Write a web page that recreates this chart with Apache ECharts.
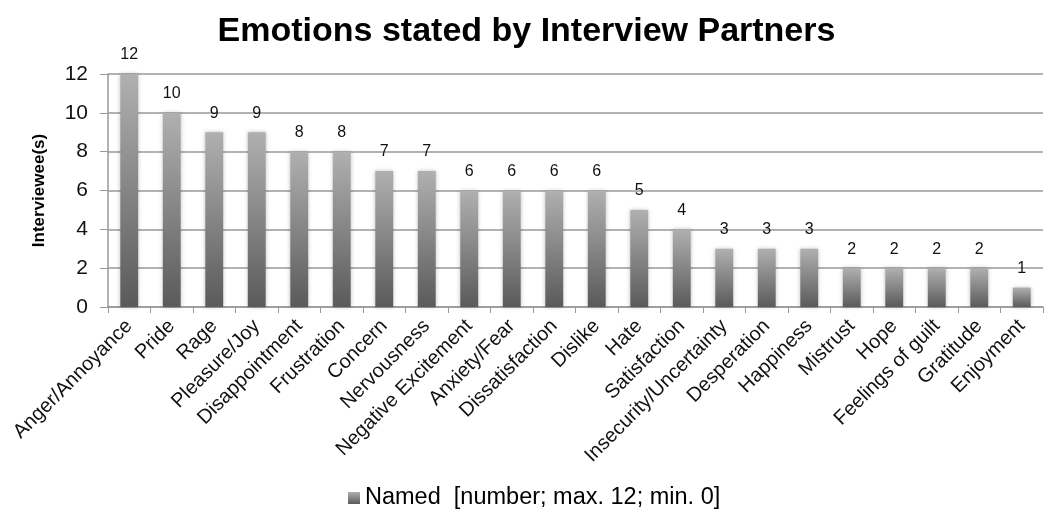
<!DOCTYPE html>
<html><head><meta charset="utf-8">
<script src="https://cdn.jsdelivr.net/npm/echarts@6/dist/echarts.min.js"></script>
<style>html,body{margin:0;padding:0;background:#fff}#c{width:1053px;height:518px}</style>
</head><body><div id="c"></div>
<script>
const categories = ["Anger/Annoyance","Pride","Rage","Pleasure/Joy","Disappointment","Frustration","Concern","Nervousness","Negative Excitement","Anxiety/Fear","Dissatisfaction","Dislike","Hate","Satisfaction","Insecurity/Uncertainty","Desperation","Happiness","Mistrust","Hope","Feelings of guilt","Gratitude","Enjoyment"];
const values = [12,10,9,9,8,8,7,7,6,6,6,6,5,4,3,3,3,2,2,2,2,1];
const yTicks = [0,2,4,6,8,10,12];
const seriesName = "Named  [number; max. 12; min. 0]";

const chart = echarts.init(document.getElementById('c'), null, {renderer:'canvas'});
const grad = new echarts.graphic.LinearGradient(0,0,0,1,[{offset:0,color:'#b0b0b0'},{offset:1,color:'#5a5a5a'}]);
chart.setOption({
  animation:false,
  title:{text:'Emotions stated by Interview Partners',left:'center',top:10,
    textStyle:{fontFamily:'Liberation Sans',fontWeight:'bold',fontSize:34,color:'#000'}},
  legend:{top:481,left:343,itemWidth:12,itemHeight:12,itemGap:5,
    textStyle:{fontFamily:'Liberation Sans',fontSize:23.5,color:'#000'},
    data:[{name:seriesName,icon:'rect'}]},
  grid:{left:108,right:10,top:74,bottom:211},
  xAxis:{type:'category',data:categories,
    axisLine:{lineStyle:{color:'#999',width:1.5}},
    axisTick:{show:true,length:6,inside:false,lineStyle:{color:'#999'}},
    axisLabel:{rotate:45,interval:0,margin:16,fontFamily:'Liberation Sans',fontSize:20,color:'#111'}},
  yAxis:{type:'value',min:yTicks[0],max:yTicks[yTicks.length-1],interval:2,
    name:'Interviewee(s)',nameLocation:'middle',nameGap:60,nameRotate:90,
    nameTextStyle:{fontFamily:'Liberation Sans',fontWeight:'bold',fontSize:17,color:'#000'},
    axisLine:{show:true,lineStyle:{color:'#999',width:1.5}},
    axisTick:{show:true,length:8,lineStyle:{color:'#999'}},
    axisLabel:{fontFamily:'Liberation Sans',fontSize:21,color:'#111',margin:20},
    splitLine:{lineStyle:{color:'#999',width:1.5}}},
  series:[{name:seriesName,type:'bar',data:values,barWidth:'42%',
    itemStyle:{color:grad,shadowColor:'rgba(0,0,0,0.25)',shadowBlur:4},
    label:{show:true,position:'top',distance:11,fontFamily:'Liberation Sans',fontSize:16,color:'#111'}}]
});
</script></body></html>
